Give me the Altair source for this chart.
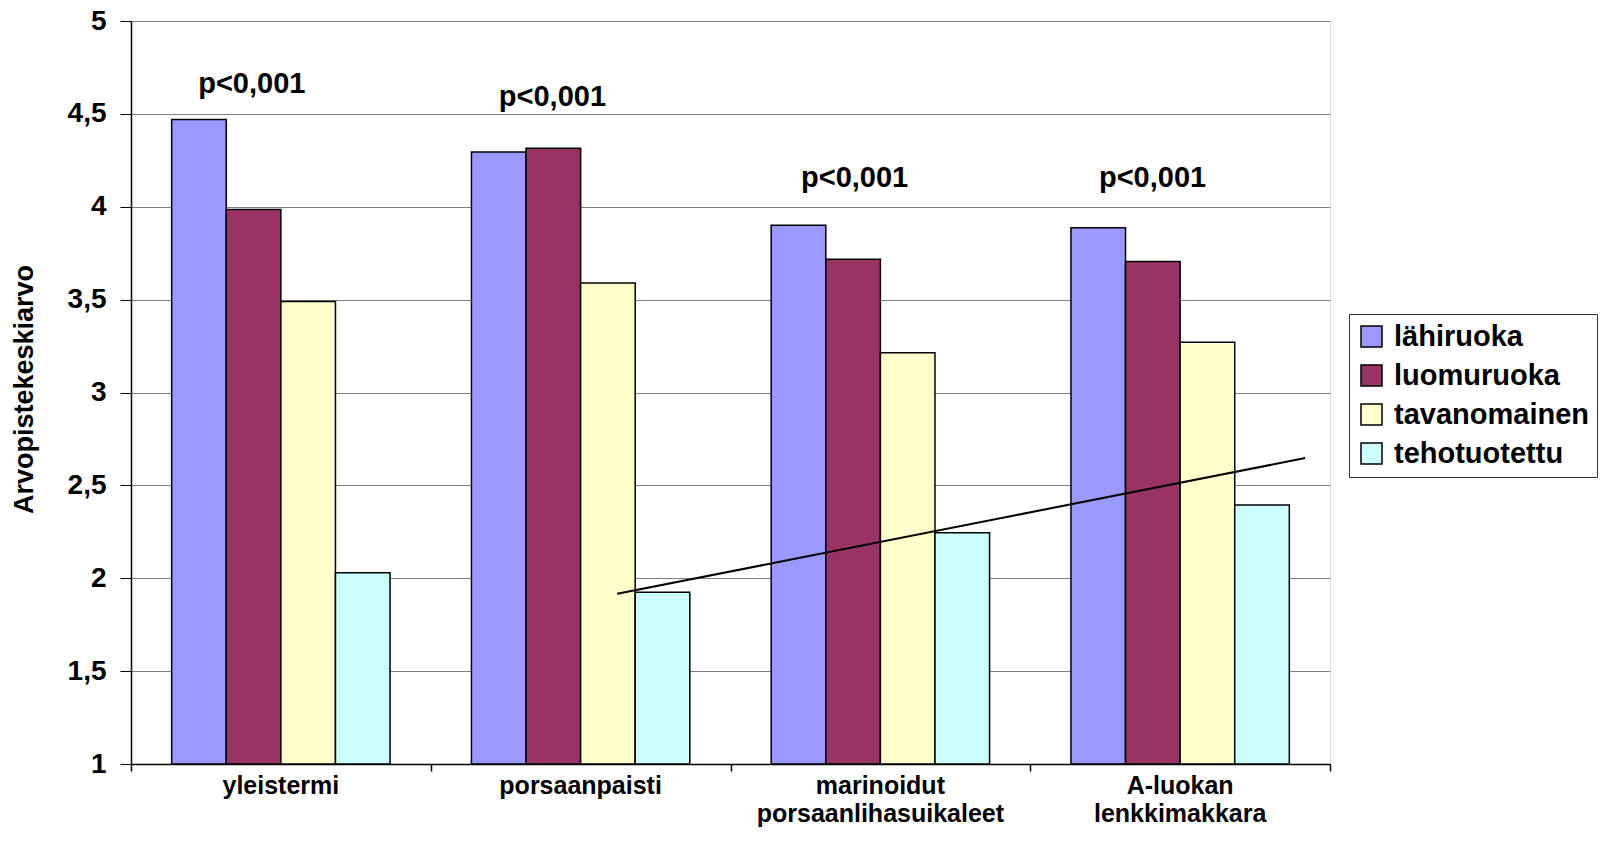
import altair as alt
import pandas as pd

# ---- data ----
categories = ["yleistermi", "porsaanpaisti", "marinoidut porsaanlihasuikaleet", "A-luokan lenkkimakkara"]
series = ["lähiruoka", "luomuruoka", "tavanomainen", "tehotuotettu"]
lahiruoka = [4.47, 4.295, 3.90, 3.887]
luomuruoka = [3.985, 4.315, 3.717, 3.705]
tavanomainen = [3.49, 3.59, 3.214, 3.27]
tehotuotettu = [2.03, 1.925, 2.245, 2.395]
colors = ["#9999FF", "#993366", "#FFFFCC", "#CCFFFF"]

y_ticks = [1, 1.5, 2, 2.5, 3, 3.5, 4, 4.5, 5]
boundaries = [0, 1, 2, 3, 4]

p_labels = ["p<0,001", "p<0,001", "p<0,001", "p<0,001"]
p_x = [0.403, 1.406, 2.414, 3.408]
p_y = [4.61, 4.544, 4.108, 4.108]

trend_x = [1.622, 3.917]
trend_y = [1.916, 2.647]

slide_no = ["4"]
slide_x = [4.8]
slide_y = [0.41]

FONT = "Liberation Sans"
W, H = 1199, 743

rows = []
for s, vals in zip(series, [lahiruoka, luomuruoka, tavanomainen, tehotuotettu]):
    for c, v in zip(categories, vals):
        rows.append({"category": c, "series": s, "value": v})
df = pd.DataFrame(rows)

yscale = alt.Scale(domain=[1, 5], nice=False, zero=False)
qx = alt.Scale(domain=[0, 4], nice=False, zero=False)


def y_axis():
    return alt.Axis(
        values=y_ticks,
        labelExpr="replace(format(datum.value, '.1~f'), '.', ',')",
        title="Arvopistekeskiarvo",
        titleX=-93,
        titleY=368,
    )


bars = alt.Chart(df).mark_bar(stroke="black", strokeWidth=1.5).encode(
    x=alt.X(
        "category:N",
        sort=categories,
        scale=alt.Scale(paddingInner=0.2715, paddingOuter=0.1357),
        axis=alt.Axis(
            title=None,
            labelAngle=0,
            labelExpr="split(datum.label, ' ')",
            labelFont=FONT,
            labelFontSize=25,
            labelFontWeight="bold",
            labelColor="black",
            labelPadding=9,
            labelLineHeight=28,
            labelLimit=500,
            ticks=False,
            domainColor="black",
            domainWidth=1.5,
            grid=False,
        ),
    ),
    xOffset=alt.XOffset("series:N", sort=series, scale=alt.Scale(paddingInner=0, paddingOuter=0)),
    y=alt.Y("value:Q", scale=yscale, axis=y_axis()),
    y2=alt.datum(1),
    color=alt.Color(
        "series:N",
        sort=series,
        scale=alt.Scale(domain=series, range=colors),
        legend=alt.Legend(
            title=None,
            orient="none",
            legendX=1218,
            legendY=293,
            fillColor="white",
            strokeColor="#333333",
            padding=8,
            rowPadding=9,
            symbolType="square",
            symbolSize=441,
            symbolStrokeColor="black",
            symbolStrokeWidth=1.5,
            labelFont=FONT,
            labelFontSize=29,
            labelFontWeight="bold",
            labelColor="black",
            labelOffset=8,
            labelLimit=400,
        ),
    ),
)

pdf = pd.DataFrame({"label": p_labels, "px": p_x, "py": p_y})
ptext = alt.Chart(pdf).mark_text(
    font=FONT, fontSize=29, fontWeight="bold", color="black", align="center", baseline="alphabetic"
).encode(
    x=alt.X(
        "px:Q",
        scale=qx,
        axis=alt.Axis(
            values=boundaries,
            labels=False,
            ticks=True,
            tickSize=7,
            tickColor="black",
            tickWidth=1.5,
            domain=False,
            grid=False,
            title=None,
            orient="bottom",
        ),
    ),
    y=alt.Y("py:Q", scale=yscale, axis=y_axis()),
    text="label:N",
)

tdf = pd.DataFrame({"tx": trend_x, "ty": trend_y})
trend = alt.Chart(tdf).mark_line(color="black", strokeWidth=2).encode(
    x=alt.X("tx:Q", scale=qx, axis=None),
    y=alt.Y("ty:Q", scale=yscale, axis=y_axis()),
)

sdf = pd.DataFrame({"t": slide_no, "sx": slide_x, "sy": slide_y})
slide = alt.Chart(sdf).mark_text(
    font=FONT, fontSize=70, fontWeight="bold", fontStyle="italic", color="#74AADC", align="center"
).encode(
    x=alt.X("sx:Q", scale=qx, axis=None),
    y=alt.Y("sy:Q", scale=yscale, axis=y_axis()),
    text="t:N",
)

chart = (
    alt.layer(bars, ptext, trend, slide)
    .resolve_scale(x="independent")
    .properties(
        width=W,
        height=H,
        autosize=alt.AutoSizeParams(type="none"),
        padding={"left": 123, "top": 13, "right": 268, "bottom": 66},
    )
    .configure_view(stroke="#808080", strokeWidth=1)
    .configure(font=FONT)
    .configure_axisLeft(
        labelFont=FONT,
        labelFontSize=28,
        labelFontWeight="bold",
        labelColor="black",
        labelPadding=14,
        tickSize=11,
        tickColor="black",
        domainColor="black",
        domainWidth=1.5,
        gridColor="#808080",
        gridWidth=1,
        titleFont=FONT,
        titleFontSize=27,
        titleFontWeight="bold",
        titleColor="black",
    )
)

chart.save("out.html", embed_options={"renderer": "svg", "actions": False})
